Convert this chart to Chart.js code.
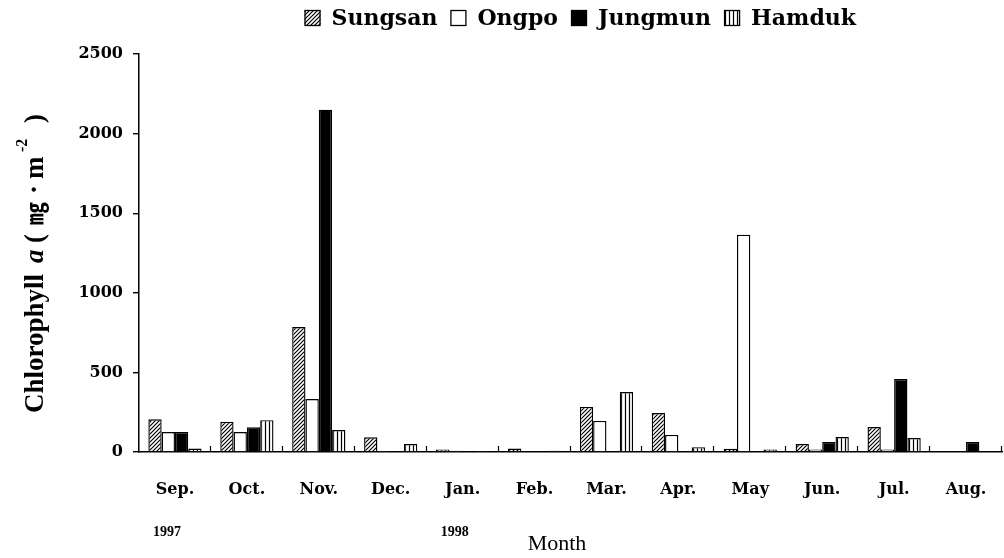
<!DOCTYPE html>
<html><head><meta charset="utf-8">
<script src="https://cdn.jsdelivr.net/npm/chart.js@4/dist/chart.umd.min.js"></script>
<style>html,body{margin:0;padding:0;background:#fff}#wrap{width:1004px;height:558px}</style>
</head><body><div id="wrap"><canvas id="c" width="1004" height="558"></canvas></div>
<script>
const months = ['Sep.','Oct.','Nov.','Dec.','Jan.','Feb.','Mar.','Apr.','May','Jun.','Jul.','Aug.'];
const years = ['1997','','','','1998','','','','','','',''];
const seriesNames = ['Sungsan','Ongpo','Jungmun','Hamduk'];
const sungsan = [205,190,785,92,15,22,283,245,20,50,157,0];
const ongpo   = [125,125,333,3,8,0,195,107,1365,15,15,0];
const jungmun = [125,155,2150,3,3,0,5,0,3,63,458,63];
const hamduk  = [22,200,138,50,3,8,377,30,15,94,88,5];
const yTickValues = [0,500,1000,1500,2000,2500];
const xTitle = 'Month';

const canvas = document.getElementById('c');
const ctx = canvas.getContext('2d');

function makePattern(kind){
  const c = document.createElement('canvas');
  const s = 4;
  c.width = s; c.height = s;
  const g = c.getContext('2d');
  g.fillStyle = '#fff'; g.fillRect(0,0,s,s);
  g.strokeStyle = '#000'; g.lineWidth = 1.2;
  g.beginPath();
  if (kind === 'hatch') {
    g.moveTo(-1,s+1); g.lineTo(s+1,-1);
    g.moveTo(-1,1); g.lineTo(1,-1);
    g.moveTo(s-1,s+1); g.lineTo(s+1,s-1);
  } else {
    g.moveTo(1.5,0); g.lineTo(1.5,s);
  }
  g.stroke();
  return ctx.createPattern(c,'repeat');
}
const fills = [makePattern('hatch'), '#ffffff', '#000000', makePattern('vert')];
const seriesData = [sungsan, ongpo, jungmun, hamduk];

const extras = {
  id: 'extras',
  afterDraw(chart){
    const c = chart.ctx;
    const xs = chart.scales.x, a = chart.chartArea;
    c.save();
    // small upward ticks between categories
    c.strokeStyle = '#000'; c.lineWidth = 1.2;
    const step = (a.right - a.left) / months.length;
    for (let i = 1; i <= months.length; i++) {
      const x = Math.round(a.left + i*step) - 0.5;
      c.beginPath(); c.moveTo(x, a.bottom); c.lineTo(x, a.bottom - 6); c.stroke();
    }
    // year labels
    c.fillStyle = '#000';
    c.font = 'bold 14px "Liberation Serif"';
    c.textAlign = 'center'; c.textBaseline = 'alphabetic';
    years.forEach((y,i) => { if (y) c.fillText(y, xs.getPixelForValue(i) - 8, 536); });
    // x-axis title
    c.font = '22px "Liberation Serif"';
    c.fillText(xTitle, 557, 550);
    // legend
    c.font = 'bold 22px "DejaVu Serif"';
    const box = 16, gap = 11, sp = 13;
    let total = 0;
    const widths = seriesNames.map(n => c.measureText(n).width);
    widths.forEach((w,i) => { total += box + gap + w + (i < widths.length-1 ? sp : 0); });
    let x = 856 - total;
    const cy = 18;
    c.textAlign = 'left'; c.textBaseline = 'middle';
    seriesNames.forEach((n,i) => {
      c.fillStyle = fills[i];
      c.fillRect(x, cy - box/2, box, box);
      c.strokeStyle = '#000'; c.lineWidth = 1.3;
      c.strokeRect(x + 0.5, cy - box/2 + 0.5, box - 1, box - 1);
      c.fillStyle = '#000';
      c.fillText(n, x + box + gap, cy + 1);
      x += box + gap + widths[i] + sp;
    });
    // y-axis title (segments placed along the rotated axis)
    const F = 'bold 27px "Liberation Serif"';
    const segs = [
      {t:'Chlorophyll', f:F, at:0},
      {t:'a', f:'italic bold 27px "Liberation Serif"', at:150},
      {t:'(', f:F, at:170},
      {t:'㎎', f:'bold 23px "Noto Sans CJK KR"', at:188},
      {t:'·', f:F, at:219},
      {t:'m', f:F, at:234},
      {t:'-2', f:'bold 16px "Liberation Serif"', at:261, dy:-16},
      {t:')', f:F, at:290}
    ];
    c.translate(43, 413);
    c.rotate(-Math.PI/2);
    c.textAlign = 'left'; c.textBaseline = 'alphabetic'; c.fillStyle = '#000';
    segs.forEach(s => { c.font = s.f; c.fillText(s.t, s.at, s.dy || 0); });
    c.restore();
  }
};

new Chart(ctx, {
  type: 'bar',
  data: {
    labels: months,
    datasets: seriesNames.map((n,i) => ({
      label: n, data: seriesData[i], backgroundColor: fills[i],
      borderColor: '#000', borderWidth: 1.4
    }))
  },
  options: {
    responsive: false, animation: false, devicePixelRatio: 1,
    layout: {padding: {top: 54, right: 2, left: 0, bottom: 0}},
    datasets: {bar: {categoryPercentage: 0.74, barPercentage: 1.0}},
    plugins: {legend: {display: false}, tooltip: {enabled: false}},
    scales: {
      x: {
        grid: {display: false, drawTicks: false},
        border: {display: true, color: '#000', width: 1.5},
        ticks: {color: '#000', font: {family: 'DejaVu Serif', weight: 'bold', size: 16}, padding: 28, maxRotation: 0, autoSkip: false},
        title: {display: false},
        afterFit(s){ s.height = 106; s.paddingLeft = 0; s.paddingRight = 0; }
      },
      y: {
        min: 0, max: 2500,
        afterBuildTicks(s){ s.ticks = yTickValues.map(v => ({value: v})); },
        grid: {display: true, drawOnChartArea: false, drawTicks: true, tickLength: 6, color: '#000', lineWidth: 1.4},
        border: {display: true, color: '#000', width: 1.5},
        ticks: {color: '#000', font: {family: 'DejaVu Serif', weight: 'bold', size: 16}, padding: 10, callback: v => String(v)},
        afterFit(s){ s.width = 139; }
      }
    }
  },
  plugins: [extras]
});
</script>
</body></html>
